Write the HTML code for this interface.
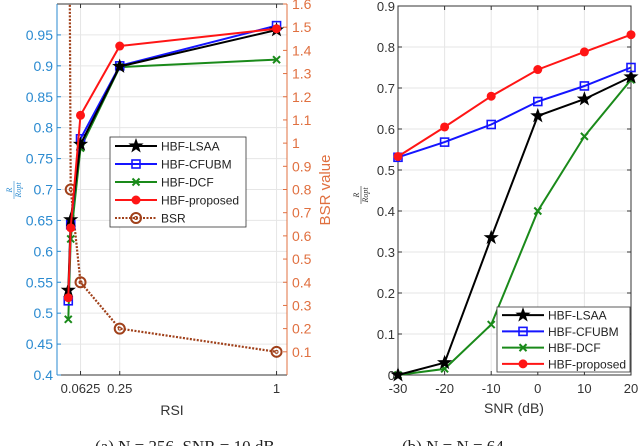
<!DOCTYPE html>
<html><head><meta charset="utf-8">
<style>
html,body{margin:0;padding:0;background:#fff;}
svg{display:block;font-family:"Liberation Sans",sans-serif;}
</style></head>
<body>
<svg id="fig" width="640" height="446" viewBox="0 0 640 446" xmlns="http://www.w3.org/2000/svg">
<g id="left"></g>
<g id="right"></g>
<text x="95" y="452" font-family="Liberation Serif,serif" font-size="17" fill="#222">(a)  N = 256, SNR = 10 dB</text>
<text x="402" y="452" font-family="Liberation Serif,serif" font-size="17" fill="#222">(b)  N = N = 64</text>
</svg>
<script>
// ----- Left chart data -----
const rsiValues = [1/256, 1/64, 1/16, 1/4, 1];
const leftLsaa = [0.537, 0.651, 0.773, 0.899, 0.958];
const leftCfubm = [0.520, 0.643, 0.782, 0.900, 0.965];
const leftDcf = [0.490, 0.620, 0.767, 0.898, 0.910];
const leftProposed = [0.525, 0.638, 0.820, 0.932, 0.960];
const bsrValues = [3.0, 0.8, 0.4, 0.2, 0.1];
const leftYTicks = [0.4,0.45,0.5,0.55,0.6,0.65,0.7,0.75,0.8,0.85,0.9,0.95];
const rightYTicks = [0.1,0.2,0.3,0.4,0.5,0.6,0.7,0.8,0.9,1,1.1,1.2,1.3,1.4,1.5,1.6];
const leftXTicks = [0.0625, 0.25, 1];
const leftXTickLabels = ["0.0625","0.25","1"];
// ----- Right chart data -----
const snrValues = [-30,-20,-10,0,10,20];
const rLsaa = [0.0, 0.030, 0.335, 0.632, 0.673, 0.727];
const rCfubm = [0.531, 0.568, 0.611, 0.667, 0.705, 0.750];
const rDcf = [0.0, 0.015, 0.123, 0.400, 0.582, 0.720];
const rProposed = [0.533, 0.605, 0.680, 0.745, 0.788, 0.830];
const snrTicks = [-30,-20,-10,0,10,20];
const rYTicks = [0,0.1,0.2,0.3,0.4,0.5,0.6,0.7,0.8,0.9];

const NS="http://www.w3.org/2000/svg";
function el(tag, attrs, parent){const e=document.createElementNS(NS,tag);for(const k in attrs)e.setAttribute(k,attrs[k]);parent.appendChild(e);return e;}
function fmt(v){return String(+v.toFixed(4));}

function marker(g,type,x,y,color){
  let m;
  if(type==='star'){
    let pts=[];for(let i=0;i<10;i++){const r=i%2?3.2:8;const a=-Math.PI/2+i*Math.PI/5;pts.push((x+r*Math.cos(a)).toFixed(1)+','+(y+r*Math.sin(a)).toFixed(1));}
    m=el('polygon',{points:pts.join(' '),fill:color},g);
  }else if(type==='square'){
    m=el('rect',{x:x-4,y:y-4,width:8,height:8,fill:'none',stroke:color,'stroke-width':1.6},g);
  }else if(type==='x'){
    m=el('path',{d:`M${x-3.5},${y-3.5}L${x+3.5},${y+3.5}M${x-3.5},${y+3.5}L${x+3.5},${y-3.5}`,stroke:color,'stroke-width':2},g);
  }else if(type==='dot'){
    m=el('circle',{cx:x,cy:y,r:4.5,fill:color},g);
  }else if(type==='ring'){
    m=el('circle',{cx:x,cy:y,r:5,fill:'none',stroke:color,'stroke-width':2},g);
    el('circle',{cx:x,cy:y,r:1.5,fill:'none',stroke:color,'stroke-width':1},g);
  }
  return m;
}
function series(g,name,xs,ys,sx,sy,color,type,dash){
  const sg=el('g',{},g);
  
  
  const pts=xs.map((v,i)=>sx(v).toFixed(1)+','+sy(ys[i]).toFixed(1)).join(' ');
  const pl=el('polyline',{points:pts,fill:'none',stroke:color,'stroke-width':dash?2.2:2},sg);
  if(dash)pl.setAttribute('stroke-dasharray','2,1.5');
  xs.forEach((v,i)=>{const m=marker(sg,type,sx(v),sy(ys[i]),color);
    
    });
}
function legend(g,x,y,w,h,items,name){
  const lg=el('g',{},g);
  
  
  el('rect',{x:x,y:y,width:w,height:h,fill:'#fff',stroke:'#333','stroke-width':0.8},lg);
  const step=h/items.length;
  items.forEach((it,i)=>{
    const cy=y+step*(i+0.5);
    const ln=el('line',{x1:x+5,x2:x+47,y1:cy,y2:cy,stroke:it[1],'stroke-width':2},lg);
    if(it[3])ln.setAttribute('stroke-dasharray','2,1.5');
    marker(lg,it[2],x+26,cy,it[1]);
    const t=el('text',{x:x+51,y:cy+4.5,'font-size':12,fill:'#222'},lg);t.textContent=it[0];
    
    
  });
}

// ===== Left chart =====
(function(){
  const g=document.getElementById('left');
  const L=57,R=287,T=4,B=375;
  const sx=v=>L+(v+0.05)/1.1*(R-L);
  const sy=v=>B-(v-0.4)/0.6*(B-T);
  const sy2=v=>B-v/1.6*(B-T);
  const clip=el('clipPath',{id:'lc'},g);el('rect',{x:L,y:T,width:R-L,height:B-T},clip);
  // grid
  leftYTicks.forEach(v=>el('line',{x1:L,x2:R,y1:sy(v),y2:sy(v),stroke:'#e6e6e6','stroke-width':1},g));
  leftXTicks.forEach(v=>el('line',{x1:sx(v),x2:sx(v),y1:T,y2:B,stroke:'#e6e6e6','stroke-width':1},g));
  const pg=el('g',{'clip-path':'url(#lc)'},g);
  series(pg,'bsr-series',rsiValues,bsrValues,sx,sy2,'#a0401a','ring',true);
  series(pg,'hbf-dcf-series',rsiValues,leftDcf,sx,sy,'#1a8a1a','x');
  series(pg,'hbf-cfubm-series',rsiValues,leftCfubm,sx,sy,'#1515ff','square');
  series(pg,'hbf-lsaa-series',rsiValues,leftLsaa,sx,sy,'#000','star');
  series(pg,'hbf-proposed-series',rsiValues,leftProposed,sx,sy,'#ff1515','dot');
  // axes
  el('line',{x1:L,x2:R,y1:T,y2:T,stroke:'#333','stroke-width':1},g);
  el('line',{x1:L,x2:R,y1:B,y2:B,stroke:'#333','stroke-width':1},g);
  el('line',{x1:L,x2:L,y1:T,y2:B,stroke:'#2a8ad0','stroke-width':1},g);
  el('line',{x1:R,x2:R,y1:T,y2:B,stroke:'#e07040','stroke-width':1},g);
  leftYTicks.forEach(v=>{el('line',{x1:L,x2:L+4,y1:sy(v),y2:sy(v),stroke:'#2a8ad0'},g);
    const t=el('text',{x:L-4,y:sy(v)+5,'font-size':14,fill:'#2a8ad0','text-anchor':'end'},g);t.textContent=fmt(v);
    });
  rightYTicks.forEach(v=>{el('line',{x1:R-4,x2:R,y1:sy2(v),y2:sy2(v),stroke:'#e07040'},g);
    const t=el('text',{x:R+5,y:sy2(v)+5,'font-size':14,fill:'#e07040'},g);t.textContent=fmt(v);
    });
  leftXTicks.forEach((v,i)=>{el('line',{x1:sx(v),x2:sx(v),y1:B-4,y2:B,stroke:'#333'},g);el('line',{x1:sx(v),x2:sx(v),y1:T,y2:T+4,stroke:'#333'},g);
    const t=el('text',{x:sx(v),y:B+18,'font-size':13,fill:'#333','text-anchor':'middle'},g);t.textContent=leftXTickLabels[i];
    });
  const xt=el('text',{x:172,y:415,'font-size':14,fill:'#333','text-anchor':'middle'},g);xt.textContent='RSI';
  
  const y2t=el('text',{x:0,y:0,'font-size':15,fill:'#e07040','text-anchor':'middle',transform:'translate(330,190) rotate(-90)'},g);y2t.textContent='BSR value';
  
  const yt=el('g',{transform:'translate(14,190)'},g);
  
  const a=el('text',{x:0,y:0,'font-size':8,fill:'#2a8ad0','font-family':'Liberation Serif,serif','font-style':'italic','text-anchor':'middle',transform:'rotate(-90) translate(0,-2)'},yt);a.textContent='R';
  el('line',{x1:0,x2:0,y1:-9,y2:9,stroke:'#2a8ad0','stroke-width':0.6},yt);
  const b=el('text',{x:0,y:0,'font-size':8,fill:'#2a8ad0','font-family':'Liberation Serif,serif','font-style':'italic','text-anchor':'middle',transform:'rotate(-90) translate(0,7)'},yt);b.textContent='Ropt';
  legend(g,110,137,136,90,[['HBF-LSAA','#000','star'],['HBF-CFUBM','#1515ff','square'],['HBF-DCF','#1a8a1a','x'],['HBF-proposed','#ff1515','dot'],['BSR','#a0401a','ring',true]],'left-legend');
})();

// ===== Right chart =====
(function(){
  const g=document.getElementById('right');
  const L=398,R=631,T=6,B=375;
  const sx=v=>L+(v+30)/50*(R-L);
  const sy=v=>B-v/0.9*(B-T);
  rYTicks.forEach(v=>el('line',{x1:L,x2:R,y1:sy(v),y2:sy(v),stroke:'#e6e6e6'},g));
  snrTicks.forEach(v=>el('line',{x1:sx(v),x2:sx(v),y1:T,y2:B,stroke:'#e6e6e6'},g));
  el('rect',{x:L,y:T,width:R-L,height:B-T,fill:'none',stroke:'#333','stroke-width':1},g);
  rYTicks.forEach(v=>{el('line',{x1:L,x2:L+4,y1:sy(v),y2:sy(v),stroke:'#333'},g);el('line',{x1:R-4,x2:R,y1:sy(v),y2:sy(v),stroke:'#333'},g);
    const t=el('text',{x:L-3,y:sy(v)+5,'font-size':13,fill:'#333','text-anchor':'end'},g);t.textContent=fmt(v);
    });
  snrTicks.forEach(v=>{el('line',{x1:sx(v),x2:sx(v),y1:B-4,y2:B,stroke:'#333'},g);el('line',{x1:sx(v),x2:sx(v),y1:T,y2:T+4,stroke:'#333'},g);
    const t=el('text',{x:sx(v),y:B+18,'font-size':13,fill:'#333','text-anchor':'middle'},g);t.textContent=String(v);
    });
  series(g,'hbf-dcf-series',snrValues,rDcf,sx,sy,'#1a8a1a','x');
  series(g,'hbf-lsaa-series',snrValues,rLsaa,sx,sy,'#000','star');
  series(g,'hbf-cfubm-series',snrValues,rCfubm,sx,sy,'#1515ff','square');
  series(g,'hbf-proposed-series',snrValues,rProposed,sx,sy,'#ff1515','dot');
  const xt=el('text',{x:514,y:413,'font-size':14,fill:'#333','text-anchor':'middle'},g);xt.textContent='SNR (dB)';
  
  const yt=el('g',{transform:'translate(361,195)'},g);
  
  const a=el('text',{x:0,y:0,'font-size':8,fill:'#333','font-family':'Liberation Serif,serif','font-style':'italic','text-anchor':'middle',transform:'rotate(-90) translate(0,-2)'},yt);a.textContent='R';
  el('line',{x1:0,x2:0,y1:-9,y2:9,stroke:'#333','stroke-width':0.6},yt);
  const b=el('text',{x:0,y:0,'font-size':8,fill:'#333','font-family':'Liberation Serif,serif','font-style':'italic','text-anchor':'middle',transform:'rotate(-90) translate(0,7)'},yt);b.textContent='Ropt';
  legend(g,497,307,133,65,[['HBF-LSAA','#000','star'],['HBF-CFUBM','#1515ff','square'],['HBF-DCF','#1a8a1a','x'],['HBF-proposed','#ff1515','dot']],'right-legend');
})();
</script>
</body></html>
